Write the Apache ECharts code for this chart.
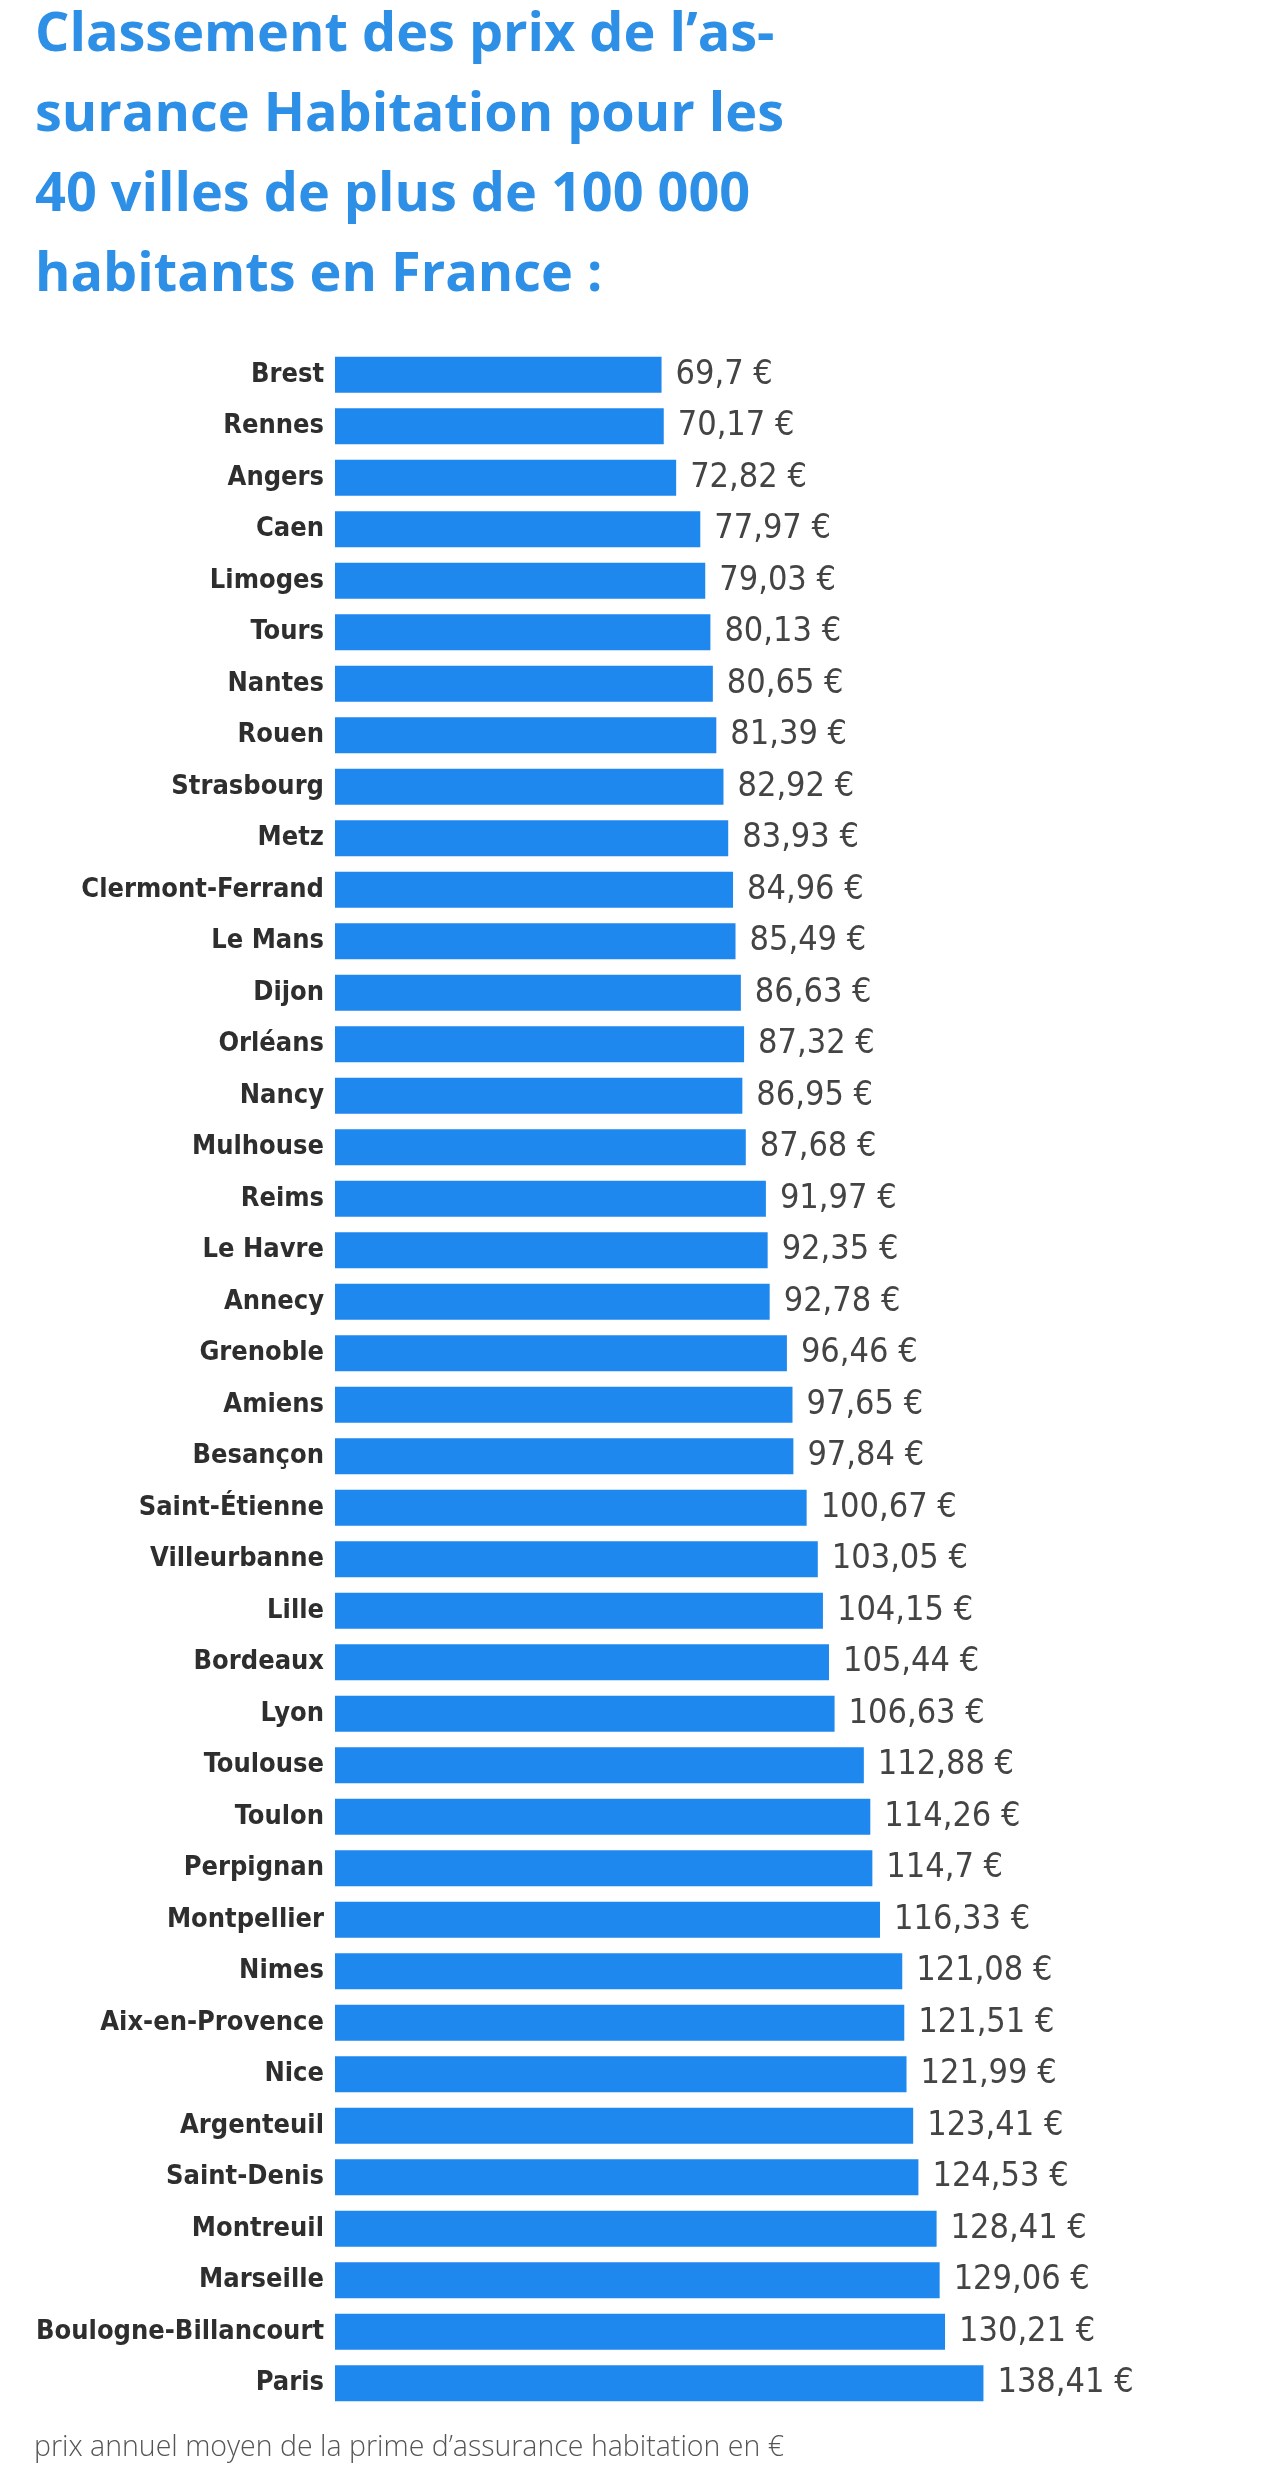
<!DOCTYPE html>
<html lang="fr">
<head>
  <meta charset="UTF-8">
  <title>Classement des prix de l'assurance Habitation</title>
  <script src="https://cdn.jsdelivr.net/npm/echarts@6.0.0/dist/echarts.min.js"></script>
  <style>
    html, body { margin: 0; padding: 0; background: #ffffff; }
    #chart-container { width: 1280px; height: 2467px; }
  </style>
</head>
<body>
  <div id="chart-container"></div>
  <script>
    // villes, dans l'ordre du classement
    const cities = [
      'Brest', 'Rennes', 'Angers', 'Caen', 'Limoges', 'Tours', 'Nantes', 'Rouen',
      'Strasbourg', 'Metz', 'Clermont-Ferrand', 'Le Mans', 'Dijon', 'Orléans', 'Nancy',
      'Mulhouse', 'Reims', 'Le Havre', 'Annecy', 'Grenoble', 'Amiens', 'Besançon',
      'Saint-Étienne', 'Villeurbanne', 'Lille', 'Bordeaux', 'Lyon', 'Toulouse', 'Toulon',
      'Perpignan', 'Montpellier', 'Nimes', 'Aix-en-Provence', 'Nice', 'Argenteuil',
      'Saint-Denis', 'Montreuil', 'Marseille', 'Boulogne-Billancourt', 'Paris'
    ];

    // prix annuel moyen (€)
    const prices = [
      69.7, 70.17, 72.82, 77.97, 79.03, 80.13, 80.65, 81.39,
      82.92, 83.93, 84.96, 85.49, 86.63, 87.32, 86.95,
      87.68, 91.97, 92.35, 92.78, 96.46, 97.65, 97.84,
      100.67, 103.05, 104.15, 105.44, 106.63, 112.88, 114.26,
      114.7, 116.33, 121.08, 121.51, 121.99, 123.41,
      124.53, 128.41, 129.06, 130.21, 138.41
    ];

    const titleText = 'Classement des prix de l\u2019as-\nsurance Habitation pour les\n40 villes de plus de 100 000\nhabitants en France :';
    const footnote = 'prix annuel moyen de la prime d\u2019assurance habitation en \u20ac';

    // format français : virgule décimale
    function formatPrice(v) {
      return String(v).replace('.', ',') + ' \u20ac';
    }

    const option = {
      backgroundColor: '#ffffff',
      animation: false,
      title: [
        {
          text: titleText,
          left: 35,
          top: -4,
          padding: 0,
          textStyle: {
            fontFamily: 'Open Sans',
            fontWeight: 'bold',
            fontSize: 54,
            lineHeight: 80,
            color: '#2d8fe5'
          }
        },
        {
          text: footnote,
          left: 34,
          top: 2430,
          padding: 0,
          textStyle: {
            fontFamily: 'Open Sans',
            fontWeight: 300,
            fontSize: 28.5,
            lineHeight: 36,
            color: '#555555'
          }
        }
      ],
      grid: {
        left: 335,
        top: 349,
        width: 937,
        height: 2060
      },
      xAxis: {
        type: 'value',
        min: 0,
        max: 200,
        show: false
      },
      yAxis: {
        type: 'category',
        data: cities,
        inverse: true,
        axisLine: { show: false },
        axisTick: { show: false },
        splitLine: { show: false },
        axisLabel: {
          margin: 11,
          fontFamily: '"DejaVu Sans Condensed", "Liberation Sans Narrow", sans-serif',
          fontWeight: 'bold',
          fontSize: 27,
          color: '#2e2e2e'
        }
      },
      series: [
        {
          type: 'bar',
          data: prices,
          barWidth: 36,
          itemStyle: { color: '#1e88ee' },
          label: {
            show: true,
            position: 'right',
            distance: 14,
            formatter: function (p) { return formatPrice(p.value); },
            fontFamily: '"DejaVu Sans Condensed", "Liberation Sans Narrow", sans-serif',
            fontSize: 34,
            color: '#444444'
          }
        }
      ]
    };

    const myChart = echarts.init(document.getElementById('chart-container'));
    myChart.setOption(option);
  </script>
</body>
</html>
